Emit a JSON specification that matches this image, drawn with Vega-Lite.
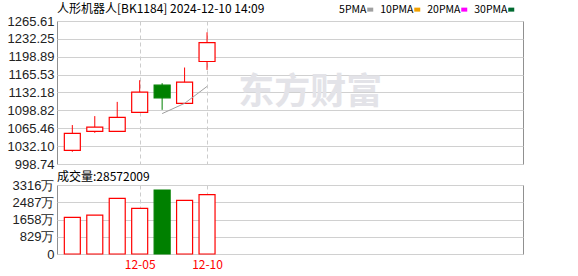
{
  "$schema": "https://vega.github.io/schema/vega-lite/v6.json",
  "padding": {"left": 6, "top": 2, "right": 5, "bottom": 2},
  "background": "#ffffff",
  "bounds": "flush",
  "spacing": 21,
  "config": {
    "view": {"stroke": "#909090", "strokeWidth": 1},
    "axis": {
      "title": null,
      "domain": false,
      "ticks": false,
      "labelOverlap": false,
      "labelFlush": false,
      "gridColor": "#d0d0d0",
      "gridOpacity": 1,
      "labelFont": "Liberation Sans",
      "labelFontSize": 13,
      "labelColor": "#222222"
    },
    "title": {
      "anchor": "start",
      "frame": "group",
      "font": "Noto Sans CJK SC",
      "fontSize": 12,
      "fontWeight": "normal",
      "color": "#000000"
    }
  },
  "datasets": {
    "kline": [
      {"i": 0, "date": "12-02", "open": 1024.2, "close": 1055.9, "high": 1071.4, "low": 1021.6, "vol": 1757},
      {"i": 1, "date": "12-03", "open": 1059.6, "close": 1067.6, "high": 1088.1, "low": 1057.0, "vol": 1868},
      {"i": 2, "date": "12-04", "open": 1059.6, "close": 1085.7, "high": 1114.7, "low": 1059.6, "vol": 2674},
      {"i": 3, "date": "12-05", "open": 1095.0, "close": 1132.8, "high": 1155.1, "low": 1095.0, "vol": 2191},
      {"i": 4, "date": "12-06", "open": 1145.8, "close": 1122.2, "high": 1149.6, "low": 1099.8, "vol": 3075},
      {"i": 5, "date": "12-09", "open": 1111.8, "close": 1151.4, "high": 1178.8, "low": 1111.8, "vol": 2578},
      {"i": 6, "date": "12-10", "open": 1190.0, "close": 1225.3, "high": 1244.5, "low": 1174.3, "vol": 2857}
    ],
    "ma": [
      {"i": 4, "line": "5PMA", "v": 1092.8},
      {"i": 5, "line": "5PMA", "v": 1111.9},
      {"i": 6, "line": "5PMA", "v": 1143.5}
    ],
    "watermark": [
      {"i": 10.6, "v": 1131, "label": "东方财富"}
    ]
  },
  "vconcat": [
    {
      "width": 466,
      "height": 143,
      "title": {"text": "人形机器人[BK1184] 2024-12-10 14:09", "offset": -1},
      "layer": [
        {
          "data": {"name": "watermark"},
          "mark": {"type": "text", "font": "Noto Sans CJK SC", "fontWeight": "bold", "fontSize": 36, "color": "#e3e3e8"},
          "encoding": {
            "x": {"field": "i", "type": "quantitative",
              "scale": {"domain": [-0.46, 19.85], "nice": false, "zero": false},
              "axis": {"values": [3, 6], "tickCount": 20, "labels": false, "grid": true, "gridDash": [4, 3], "gridColor": "#cccccc"}},
            "y": {"field": "v", "type": "quantitative",
              "scale": {"domain": [998.74, 1265.61], "nice": false, "zero": false},
              "axis": {"values": [998.74, 1032.10, 1065.46, 1098.82, 1132.18, 1165.53, 1198.89, 1232.25, 1265.61], "tickCount": 9, "format": ".2f", "labelPadding": 3, "grid": true, "gridColor": "#d0d0d0"}},
            "text": {"field": "label"}
          }
        },
        {
          "data": {"name": "kline"},
          "mark": {"type": "rule", "strokeWidth": 1},
          "encoding": {
            "x": {"field": "i", "type": "quantitative"},
            "y": {"field": "low", "type": "quantitative"},
            "y2": {"field": "high"},
            "color": {"condition": {"test": "datum.close < datum.open", "value": "#008000"}, "value": "#ff0000"}
          }
        },
        {
          "data": {"name": "kline"},
          "mark": {"type": "bar", "size": 16, "strokeWidth": 1.2},
          "encoding": {
            "x": {"field": "i", "type": "quantitative"},
            "y": {"field": "open", "type": "quantitative"},
            "y2": {"field": "close"},
            "fill": {"condition": {"test": "datum.close < datum.open", "value": "#008000"}, "value": "#ffffff"},
            "stroke": {"condition": {"test": "datum.close < datum.open", "value": "#008000"}, "value": "#ff0000"}
          }
        },
        {
          "data": {"name": "ma"},
          "mark": {"type": "line", "strokeWidth": 1},
          "encoding": {
            "x": {"field": "i", "type": "quantitative"},
            "y": {"field": "v", "type": "quantitative"},
            "color": {
              "field": "line", "type": "nominal",
              "scale": {"domain": ["5PMA", "10PMA", "20PMA", "30PMA"], "range": ["#a0a0a0", "#f0a000", "#ff00ff", "#006a30"]},
              "legend": {
                "orient": "none", "legendX": 308, "legendY": -17,
                "direction": "horizontal", "title": null,
                "symbolType": "stroke", "symbolSize": 36, "symbolStrokeWidth": 4,
                "labelAlign": "right", "labelOffset": -9,
                "labelFont": "Noto Sans CJK SC", "labelFontSize": 10.5, "labelColor": "#000000",
                "columnPadding": -2
              }
            }
          }
        }
      ]
    },
    {
      "width": 466,
      "height": 69,
      "title": {"text": "成交量:28572009", "offset": -5},
      "data": {"name": "kline"},
      "mark": {"type": "bar", "size": 16, "strokeWidth": 1.2},
      "encoding": {
        "x": {"field": "i", "type": "quantitative",
          "scale": {"domain": [-0.46, 19.85], "nice": false, "zero": false},
          "axis": {"values": [3, 6], "tickCount": 20, "labelExpr": "datum.value == 3 ? '12-05' : '12-10'", "grid": true, "gridDash": [4, 3], "gridColor": "#cccccc", "labelColor": "#ff0000", "labelFont": "Noto Sans CJK SC", "labelFontSize": 12, "labelPadding": 5}},
        "y": {"field": "vol", "type": "quantitative",
          "scale": {"domain": [0, 3316], "nice": false},
          "axis": {"values": [0, 829, 1658, 2487, 3316], "tickCount": 5, "labelExpr": "datum.value == 0 ? '0' : datum.value + '万'", "labelPadding": 3}},
        "fill": {"condition": {"test": "datum.close < datum.open", "value": "#008000"}, "value": "#ffffff"},
        "stroke": {"condition": {"test": "datum.close < datum.open", "value": "#008000"}, "value": "#ff0000"}
      }
    }
  ]
}
